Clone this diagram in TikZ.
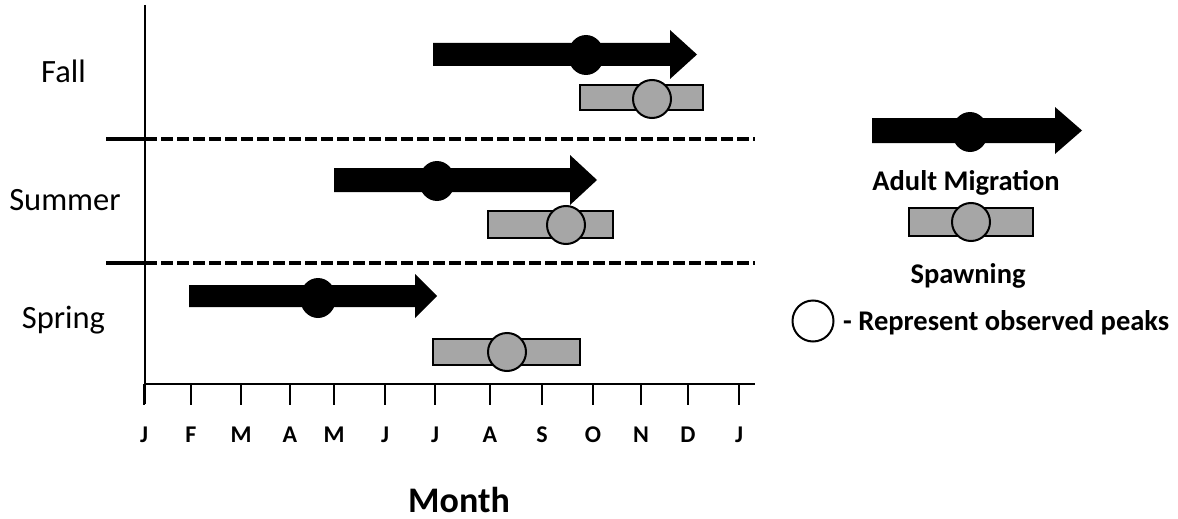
\documentclass[tikz,border=0pt]{standalone}
\usepackage{fontspec}
\setmainfont{Carlito}
\usetikzlibrary{shapes.geometric}
\definecolor{bargray}{HTML}{A6A6A6}
\tikzset{
  axisline/.style={line width=2.5pt, black},
  sepsolid/.style={line width=3.5pt, black},
  sepdash/.style={line width=3.5pt, black, dash pattern=on 12pt off 4pt},
  migarrow/.style={fill=black},
  peakblack/.style={ellipse, fill=black, minimum width=36pt, minimum height=40pt, inner sep=0pt},
  spawnbar/.style={rectangle, draw=black, line width=2pt, fill=bargray, inner sep=0pt},
  peakgray/.style={circle, draw=black, line width=2pt, fill=bargray, minimum size=38pt, inner sep=0pt},
  peakwhite/.style={circle, draw=black, line width=2pt, fill=white, minimum size=41pt, inner sep=0pt},
  season/.style={font=\fontsize{32.5}{36}\selectfont, inner sep=0pt},
  monthlab/.style={font=\bfseries\fontsize{24}{28}\selectfont, inner sep=0pt, anchor=base},
  legendtxt/.style={font=\bfseries\fontsize{28.5}{32}\selectfont, inner sep=0pt},
}
\begin{document}
\begin{tikzpicture}[x=1pt, y=-1pt]
\useasboundingbox (0,0) rectangle (1178,519);

% axes
\coordinate (ytop) at (145,5);
\coordinate (ybot) at (145,404);
\coordinate (xl) at (145,384);
\coordinate (xr) at (755,384);
\draw[axisline] (ytop) -- (ybot);
\draw[axisline] (xl) -- (xr);

% ticks and month labels
\foreach \x/\m [count=\i] in {144/J,191/F,241/M,290/A,334/M,385/J,435/J,490/A,542/S,593/O,641/N,688/D,739/J}{
  \draw[axisline] (\x,384) -- (\x,405);
  \node[monthlab] (m\i) at (\x,442) {\m};
}
\node[font=\bfseries\fontsize{36}{40}\selectfont, inner sep=0pt] (month) at (459,500) {Month};

% separators
\coordinate (s1a) at (106,139); \coordinate (s1b) at (145,139); \coordinate (s1c) at (755,139);
\coordinate (s2a) at (106,263); \coordinate (s2b) at (145,263); \coordinate (s2c) at (755,263);
\draw[sepsolid] (s1a) -- (s1b);
\draw[sepdash] (s1b) -- (s1c);
\draw[sepsolid] (s2a) -- (s2b);
\draw[sepdash] (s2b) -- (s2c);

% season labels
\node[season] (fall) at (63.5,71) {Fall};
\node[season] (summer) at (65,200) {Summer};
\node[season] (spring) at (63.5,320) {Spring};

% Fall
\fill[migarrow] (433,43) -- (670,43) -- (670,30) -- (697,54.5) -- (670,79) -- (670,66) -- (433,66) -- cycle;
\node[peakblack] (fallpk) at (586,55) {};
\node[spawnbar, minimum width=123pt, minimum height=25pt] (fallbar) at (641.5,97.5) {};
\node[peakgray] (fallsp) at (652,99) {};

% Summer
\fill[migarrow] (334,168) -- (570,168) -- (570,155) -- (597,180) -- (570,205) -- (570,192) -- (334,192) -- cycle;
\node[peakblack] (sumpk) at (437,181) {};
\node[spawnbar, minimum width=125pt, minimum height=27pt] (sumbar) at (550,224) {};
\node[peakgray] (sumsp) at (566,225) {};

% Spring
\fill[migarrow] (189,285) -- (415,285) -- (415,274) -- (437,296) -- (415,318) -- (415,307) -- (189,307) -- cycle;
\node[peakblack] (sprpk) at (318,298) {};
\node[spawnbar, minimum width=147pt, minimum height=26pt] (sprbar) at (506.5,352) {};
\node[peakgray] (sprsp) at (507,352) {};

% Legend
\fill[migarrow] (872,118) -- (1055,118) -- (1055,107) -- (1082,130.5) -- (1055,154) -- (1055,143) -- (872,143) -- cycle;
\node[peakblack] (legpk) at (970,132) {};
\node[legendtxt] (legmig) at (966,183) {Adult Migration};
\node[spawnbar, minimum width=124pt, minimum height=28pt] (legbar) at (971,222) {};
\node[peakgray] (legsp) at (971,222) {};
\node[legendtxt] (legspawn) at (968,276) {Spawning};
\node[peakwhite] (legpeak) at (813,321) {};
\node[legendtxt, anchor=west] (legpeaktxt) at (843,323) {- Represent observed peaks};
\end{tikzpicture}
\end{document}
